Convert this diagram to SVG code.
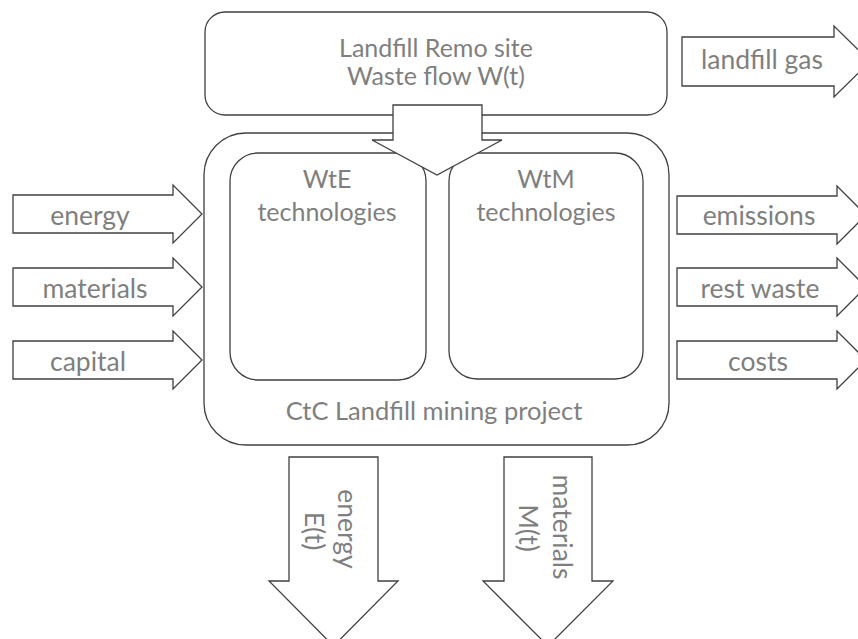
<svg xmlns="http://www.w3.org/2000/svg" width="858" height="639" viewBox="0 0 858 639">
<style>
.s{fill:#fff;stroke:#404040;stroke-width:1.3}
.t{font-family:Lato,"Liberation Sans",sans-serif;font-size:25px;fill:#7f7f7f;text-anchor:middle}
.a{font-size:26.5px}
</style>
<rect width="858" height="639" fill="#fff"/>
<g id="project">
<rect class="s" x="204" y="133" width="465" height="312" rx="42"/>
<text class="t" x="434" y="420" style="font-size:25.5px">CtC Landfill mining project</text>
</g>
<g id="wte">
<rect class="s" x="230" y="153" width="196" height="227" rx="28"/>
<text class="t" x="327" y="188">WtE</text>
<text class="t" x="327" y="221">technologies</text>
</g>
<g id="wtm">
<rect class="s" x="449" y="153" width="194" height="226" rx="28"/>
<text class="t" x="546" y="188">WtM</text>
<text class="t" x="546" y="221">technologies</text>
</g>
<g id="site">
<rect class="s" x="205" y="12" width="462" height="103" rx="20"/>
<text class="t" x="436" y="57">Landfill Remo site</text>
<text class="t" x="436" y="85">Waste flow W(t)</text>
</g>
<g id="connectors">
<polygon class="s" points="393,105 482,105 482,140 502,140 437,175 372,140 393,140"/>
<g id="in-energy"><polygon class="s" points="13,195 173,195 173,185 202,214 173,243 173,233 13,233"/><text class="t a" x="90" y="225">energy</text></g>
<g id="in-materials"><polygon class="s" points="13,268 173,268 173,258 202,287 173,316 173,306 13,306"/><text class="t a" x="95" y="298">materials</text></g>
<g id="in-capital"><polygon class="s" points="13,341 173,341 173,331 202,360 173,389 173,379 13,379"/><text class="t a" x="88" y="371">capital</text></g>
<g id="out-gas"><polygon class="s" points="682,37 834,37 834,26 870,61.5 834,97 834,86 682,86"/><text class="t a" x="762" y="69">landfill gas</text></g>
<g id="out-emissions"><polygon class="s" points="677,196 837,196 837,186 866,215 837,244 837,234 677,234"/><text class="t a" x="759" y="225">emissions</text></g>
<g id="out-rest"><polygon class="s" points="677,268 837,268 837,258 866,287 837,316 837,306 677,306"/><text class="t a" x="760" y="298">rest waste</text></g>
<g id="out-costs"><polygon class="s" points="677,341 837,341 837,331 866,360 837,389 837,379 677,379"/><text class="t a" x="758" y="371">costs</text></g>
<g id="out-energy"><polygon class="s" points="289,457 378,457 378,581 398,581 333.5,646 269,581 289,581"/>
<text class="t a" transform="translate(338,529) rotate(90)">energy</text>
<text class="t a" transform="translate(305,531) rotate(90)">E(t)</text></g>
<g id="out-materials"><polygon class="s" points="504,457 592,457 592,581 613,581 548,646 483,581 504,581"/>
<text class="t a" transform="translate(553,527) rotate(90)">materials</text>
<text class="t a" transform="translate(519,528) rotate(90)">M(t)</text></g>
</g>
</svg>
